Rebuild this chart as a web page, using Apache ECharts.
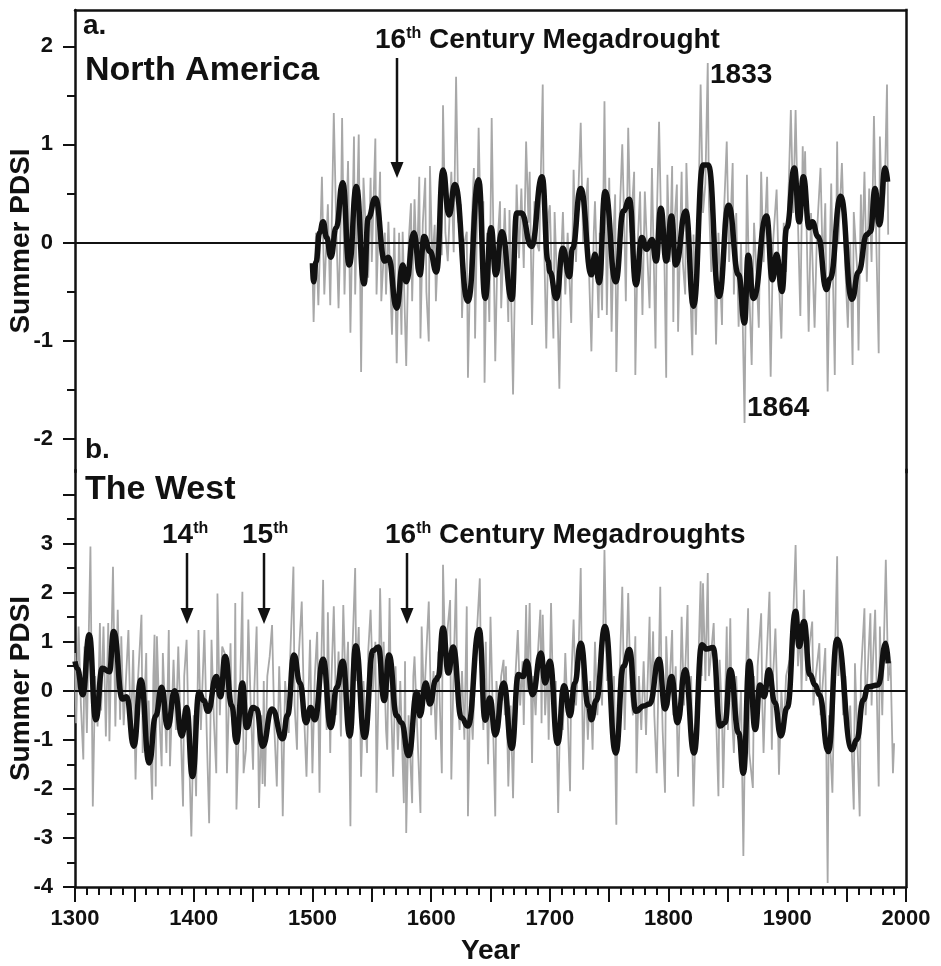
<!DOCTYPE html>
<html>
<head>
<meta charset="utf-8">
<title>Summer PDSI</title>
<script src="https://cdn.jsdelivr.net/npm/echarts@6/dist/echarts.min.js"></script>
<style>
html, body { margin: 0; padding: 0; background: #fff; }
#chart { width: 941px; height: 966px; }
</style>
</head>
<body>
<div id="chart"></div>
<script>
// a. North America — annual values (gray) and smoothed curve (black), [year, PDSI]
const naAnnual = [
  [1500,-0.25],[1501,-0.81],[1503,0.10],[1505,-0.64],[1508,0.67],[1510,-0.53],[1513,0.39],[1515,-0.64],[1518,1.32],[1520,0.20],
  [1522,-0.67],[1524,0.30],[1525,1.27],[1527,-0.53],[1530,0.83],[1532,-0.92],[1535,1.08],[1536,-0.53],[1539,1.10],[1541,-1.32],
  [1543,0.66],[1545,0.10],[1547,-0.36],[1549,0.66],[1550,-0.20],[1553,1.06],[1554,-0.53],[1557,0.72],[1558,-0.60],[1561,0.10],
  [1562,-0.53],[1564,0.21],[1567,-0.94],[1569,0.15],[1571,-1.23],[1573,0.10],[1575,-0.94],[1576,0.11],[1579,-1.26],[1581,0.00],
  [1583,0.40],[1584,-0.60],[1586,0.44],[1588,-0.30],[1590,0.67],[1591,-0.98],[1593,0.20],[1595,0.66],[1596,-0.50],[1598,-1.01],
  [1599,0.78],[1601,-0.20],[1603,0.18],[1604,-0.60],[1607,0.30],[1609,-0.13],[1610,1.40],[1612,0.10],[1614,-0.19],[1617,0.72],
  [1619,-0.10],[1621,1.69],[1623,0.20],[1625,0.39],[1626,-0.77],[1628,0.00],[1630,0.11],[1631,-1.38],[1633,-0.20],[1636,0.76],
  [1637,-0.98],[1640,1.17],[1642,0.00],[1644,0.42],[1645,-1.43],[1647,0.10],[1649,-0.81],[1651,1.27],[1654,-1.21],[1656,0.00],
  [1658,0.42],[1659,-0.67],[1662,0.35],[1665,-0.81],[1666,0.33],[1669,-1.55],[1672,0.59],[1674,-0.16],[1676,0.55],[1678,-0.26],
  [1680,1.03],[1682,0.20],[1683,0.72],[1685,-0.84],[1687,0.42],[1689,0.00],[1691,-0.09],[1694,1.61],[1695,0.10],[1697,-1.08],
  [1699,0.30],[1700,0.38],[1703,-0.98],[1704,0.31],[1706,-0.40],[1708,-1.49],[1710,0.00],[1711,0.31],[1713,-0.53],[1715,0.10],
  [1718,-0.82],[1720,0.74],[1722,-0.20],[1726,1.22],[1728,0.00],[1732,0.66],[1733,-0.30],[1735,-1.11],[1737,0.10],[1738,0.42],
  [1741,-0.77],[1742,0.10],[1744,-0.69],[1746,1.44],[1748,-0.74],[1750,0.66],[1752,-0.91],[1754,0.20],[1755,0.49],[1756,-1.32],
  [1758,0.00],[1761,1.00],[1763,0.00],[1764,-0.60],[1766,1.17],[1768,0.10],[1771,0.72],[1772,-1.35],[1774,0.00],[1776,0.52],
  [1778,-0.74],[1780,0.52],[1782,-0.10],[1784,-0.67],[1786,0.76],[1789,-1.08],[1790,0.20],[1792,1.23],[1794,0.00],[1796,0.20],
  [1798,-1.38],[1799,0.69],[1801,-0.20],[1803,0.78],[1804,-0.81],[1805,0.20],[1807,0.59],[1808,-0.91],[1811,0.72],[1812,-0.20],
  [1814,-0.53],[1815,0.81],[1817,0.00],[1820,-1.15],[1821,0.08],[1823,-0.94],[1825,0.20],[1827,1.61],[1829,0.30],[1831,0.60],
  [1833,1.83],[1834,0.40],[1836,-0.30],[1838,0.20],[1840,-1.04],[1842,0.10],[1845,-0.84],[1846,0.10],[1849,1.03],[1851,-0.20],
  [1854,0.81],[1855,-0.53],[1857,0.30],[1859,-0.86],[1861,0.00],[1862,-0.50],[1864,-1.84],[1866,0.69],[1868,-0.50],[1870,-1.25],
  [1872,0.20],[1874,-0.30],[1876,-0.87],[1878,0.72],[1880,-0.20],[1883,0.67],[1886,-1.37],[1888,0.00],[1891,0.54],[1893,-0.40],
  [1895,-0.98],[1897,0.20],[1899,-0.30],[1901,0.50],[1903,1.35],[1905,0.30],[1907,1.35],[1909,0.20],[1911,-0.75],[1913,0.98],
  [1914,0.40],[1915,0.93],[1918,-0.91],[1920,0.30],[1923,-0.87],[1925,0.10],[1928,0.76],[1930,-0.30],[1932,0.40],[1934,-1.52],
  [1936,0.00],[1937,0.60],[1940,-1.35],[1942,1.03],[1943,0.00],[1946,0.81],[1948,0.00],[1951,-0.87],[1953,0.00],[1955,-1.25],
  [1956,0.31],[1959,-0.30],[1960,-1.10],[1962,0.49],[1963,-0.20],[1965,0.72],[1967,-0.40],[1969,0.55],[1971,-0.20],[1973,1.29],
  [1975,0.00],[1977,-1.13],[1978,1.08],[1980,0.20],[1982,0.50],[1984,1.61],[1985,0.08]
];
const naSmooth = [
  [1500,-0.21],[1501,-0.40],[1503,-0.20],[1506,0.10],[1509,0.21],[1512,0.05],[1515.5,-0.15],[1520,0.15],[1525.5,0.61],[1531,-0.23],
  [1537,0.57],[1543.5,-0.42],[1547,0.25],[1553,0.45],[1561,-0.19],[1564,-0.15],[1571,-0.67],[1576,-0.23],[1579,-0.40],[1585.5,0.10],
  [1590.5,-0.33],[1594,0.06],[1599,-0.09],[1604.5,-0.30],[1610,0.74],[1615,0.28],[1620,0.59],[1631,-0.60],[1640,0.64],[1645.5,-0.57],
  [1650.5,0.15],[1654.5,-0.33],[1659.5,0.11],[1668,-0.58],[1672,0.30],[1676,0.30],[1684.5,-0.04],[1693.5,0.67],[1698.5,-0.19],[1700,-0.30],
  [1705.5,-0.57],[1711,-0.06],[1716.5,-0.35],[1719,-0.06],[1726,0.55],[1735,-0.33],[1738,-0.12],[1741.5,-0.41],[1746.5,0.52],[1755.5,-0.40],
  [1762,0.32],[1767,0.44],[1772.5,-0.43],[1777.5,0.05],[1781.5,-0.07],[1786,0.03],[1789.5,-0.19],[1793.5,0.35],[1798,-0.19],[1802.5,0.27],
  [1806,-0.23],[1814.5,0.32],[1821,-0.65],[1829,0.79],[1833.5,0.79],[1842.5,-0.55],[1850.5,0.38],[1859,-0.33],[1864,-0.82],[1867,-0.13],
  [1871.5,-0.57],[1882.5,0.27],[1887.5,-0.38],[1891,-0.12],[1895.5,-0.50],[1899.5,0.15],[1906,0.76],[1910,0.21],[1913.5,0.67],[1918.5,0.15],
  [1921,0.21],[1926,0.06],[1933,-0.48],[1936,-0.37],[1945,0.47],[1954.5,-0.58],[1960,-0.30],[1967,0.08],[1970,0.11],[1974,0.55],
  [1977.5,0.18],[1982.5,0.76],[1984.5,0.62]
];

// b. The West
const westAnnual = [
  [1300,0.77],[1301,-0.66],[1303,1.31],[1305,-0.30],[1307,-1.40],[1308,0.90],[1310,-0.86],[1313,2.94],[1315,-2.36],[1317,0.30],
  [1319,-0.73],[1321,1.38],[1322,-0.40],[1324,1.31],[1326,-0.93],[1328,1.38],[1329,-1.03],[1332,2.53],[1334,-0.73],[1336,1.65],
  [1338,-0.59],[1339,1.11],[1341,-0.70],[1345,1.24],[1347,-1.00],[1349,0.83],[1351,-1.81],[1353,0.20],[1356,1.55],[1357,-1.27],
  [1360,0.77],[1361,-1.51],[1362,-0.20],[1365,-2.22],[1366,0.30],[1367,1.14],[1368,-1.95],[1369,1.11],[1371,-0.50],[1373,-1.54],
  [1374,0.77],[1377,-1.27],[1379,1.24],[1380,-1.54],[1383,0.63],[1385,-0.80],[1387,0.90],[1391,-2.36],[1392,0.30],[1394,1.04],
  [1396,-1.20],[1398,-2.97],[1400,-0.50],[1402,-2.15],[1404,1.24],[1406,-0.80],[1409,1.24],[1411,-0.90],[1413,-2.70],[1415,1.04],
  [1417,-0.60],[1419,-1.68],[1420,1.98],[1422,-0.50],[1424,0.90],[1427,0.70],[1428,-1.68],[1431,0.97],[1432,-0.50],[1434,-1.00],
  [1435,1.79],[1436,-2.42],[1439,0.00],[1441,2.02],[1442,-1.68],[1444,-1.20],[1446,1.45],[1448,-0.30],[1450,-1.61],[1451,0.00],
  [1453,1.31],[1455,-2.39],[1457,-0.50],[1458,-1.90],[1459,0.20],[1460,-1.95],[1462,0.30],[1464,0.70],[1466,1.34],[1468,-0.80],
  [1470,-1.95],[1472,0.50],[1474,-1.00],[1475,-2.56],[1477,0.20],[1480,-0.86],[1481,0.50],[1484,2.53],[1485,-0.30],[1487,-1.20],
  [1488,0.50],[1491,1.82],[1493,-0.50],[1495,-1.75],[1497,0.20],[1498,1.04],[1500,-1.68],[1502,0.30],[1504,1.20],[1506,-2.08],
  [1507,0.00],[1509,2.26],[1510,0.30],[1512,-0.80],[1513,1.60],[1515,-1.27],[1516,0.20],[1518,1.72],[1520,-0.50],[1522,0.80],
  [1524,-0.93],[1526,1.75],[1528,0.00],[1530,1.00],[1532,-2.76],[1533,0.30],[1536,2.50],[1537,0.20],[1539,1.30],[1541,-1.75],
  [1543,0.20],[1546,-1.27],[1547,0.80],[1549,1.65],[1551,0.00],[1553,1.00],[1554,-2.08],[1556,0.40],[1557,2.09],[1559,0.00],
  [1560,1.00],[1562,-0.80],[1563,-1.20],[1565,1.89],[1566,0.00],[1568,-1.75],[1570,0.50],[1572,-1.20],[1574,0.20],[1577,-2.29],
  [1578,0.60],[1579,-2.90],[1581,-0.50],[1584,-2.29],[1585,0.30],[1586,0.70],[1588,-0.60],[1591,-2.49],[1592,1.31],[1594,-0.30],
  [1596,0.80],[1598,1.82],[1600,-0.50],[1602,0.40],[1604,-1.00],[1606,0.80],[1609,-1.68],[1610,2.57],[1612,0.50],[1614,1.30],
  [1616,1.85],[1617,-1.81],[1619,0.50],[1621,2.29],[1622,0.00],[1624,-0.80],[1626,0.40],[1628,-1.00],[1630,1.72],[1631,-2.56],
  [1633,0.00],[1635,-1.00],[1637,0.50],[1641,2.29],[1642,0.30],[1644,-0.80],[1646,1.00],[1648,-1.50],[1650,1.51],[1654,-2.56],
  [1655,0.20],[1657,-0.50],[1659,0.30],[1661,0.63],[1662,-0.50],[1663,0.50],[1665,-1.95],[1667,-0.30],[1669,-2.19],[1671,0.30],
  [1673,1.24],[1675,-0.30],[1677,0.60],[1678,-0.70],[1680,1.75],[1681,0.00],[1683,1.79],[1685,-1.47],[1686,0.30],[1688,-0.50],
  [1690,0.80],[1692,1.65],[1693,-0.66],[1694,1.55],[1696,-0.50],[1698,0.50],[1699,-1.00],[1701,1.79],[1703,-0.50],[1705,0.20],
  [1707,-2.49],[1709,0.00],[1711,-0.80],[1713,0.77],[1715,-0.50],[1717,-2.05],[1718,0.20],[1720,1.45],[1722,-0.30],[1724,0.60],
  [1726,2.50],[1727,0.30],[1728,-1.61],[1730,0.30],[1732,-1.00],[1734,0.20],[1736,-1.20],[1738,1.00],[1740,-0.50],[1742,0.50],
  [1744,-0.30],[1746,2.87],[1748,0.20],[1750,1.00],[1752,-1.00],[1754,0.30],[1756,-2.73],[1757,-0.30],[1759,0.50],[1761,2.12],
  [1763,-0.80],[1766,1.99],[1768,0.00],[1770,-0.50],[1772,1.11],[1773,-1.68],[1775,0.30],[1777,-0.80],[1779,0.60],[1781,-0.90],
  [1784,1.51],[1785,-0.30],[1787,1.21],[1788,-0.50],[1790,-1.68],[1793,2.12],[1794,0.30],[1795,-0.80],[1797,-2.08],[1798,1.11],
  [1800,-0.30],[1803,1.24],[1804,-0.50],[1806,0.50],[1808,-1.75],[1810,0.20],[1811,1.51],[1813,-0.30],[1816,1.75],[1817,-0.50],
  [1819,0.30],[1821,-2.36],[1823,-0.50],[1825,0.50],[1827,2.23],[1828,0.30],[1829,2.19],[1831,0.20],[1833,2.40],[1834,0.30],
  [1836,0.80],[1838,1.38],[1840,-0.50],[1842,-2.15],[1843,0.63],[1845,-0.50],[1846,-1.98],[1848,0.20],[1849,1.31],[1850,-0.80],
  [1852,1.48],[1853,-0.30],[1855,-1.27],[1857,0.30],[1859,-1.00],[1861,0.00],[1863,-3.37],[1865,0.20],[1867,1.68],[1868,-1.27],
  [1871,-1.98],[1872,0.30],[1874,-0.80],[1875,0.50],[1878,1.58],[1879,-0.30],[1880,-1.27],[1882,0.30],[1885,2.02],[1887,-1.20],
  [1888,0.30],[1890,1.27],[1892,-0.50],[1893,-1.71],[1895,0.00],[1897,-0.80],[1899,0.30],[1902,0.63],[1903,0.00],[1905,1.50],
  [1907,2.97],[1909,0.50],[1911,1.20],[1912,0.00],[1914,2.06],[1916,0.20],[1918,0.80],[1921,1.41],[1922,-0.30],[1924,0.30],
  [1927,0.97],[1928,-0.50],[1930,0.20],[1932,0.87],[1934,-3.92],[1935,-0.50],[1938,-2.08],[1940,0.50],[1942,2.74],[1943,0.30],
  [1945,1.00],[1947,-0.50],[1949,0.30],[1951,-1.00],[1953,-0.30],[1956,-2.42],[1957,0.56],[1959,-1.00],[1961,-2.56],[1962,0.30],
  [1965,1.68],[1966,-0.50],[1970,1.58],[1971,-0.30],[1972,0.50],[1974,1.65],[1977,-1.95],[1978,1.31],[1980,-0.50],[1983,2.67],
  [1985,0.20],[1987,0.60],[1989,-1.68],[1990,-1.07]
];
const westSmooth = [
  [1300,0.60],[1302,0.45],[1306.5,-0.08],[1312,1.14],[1317.5,-0.59],[1323,0.46],[1329,0.39],[1332.5,1.21],[1340,-0.17],[1343.5,-0.12],
  [1349.5,-1.13],[1355.5,0.22],[1362.5,-1.47],[1368,-0.51],[1373,0.07],[1378,-0.75],[1384,0.00],[1390,-0.92],[1394,-0.34],[1399,-1.75],
  [1404.5,-0.03],[1408.5,-0.20],[1412,-0.42],[1419,0.29],[1422.5,-0.12],[1426.5,0.70],[1432,-0.30],[1436,-1.05],[1441,0.16],[1444.5,-0.75],
  [1450,-0.34],[1453,-0.37],[1458,-1.13],[1466,-0.37],[1475,-0.98],[1479,-0.50],[1484.5,0.73],[1489.5,0.16],[1494.5,-0.65],[1498.5,-0.34],
  [1502,-0.59],[1509,0.64],[1515.5,-0.75],[1520.5,0.07],[1525.5,0.60],[1531.5,-0.92],[1536.5,0.92],[1544,-0.95],[1551,0.82],[1555.5,0.89],
  [1560.5,-0.20],[1564.5,0.73],[1571,-0.51],[1575,-0.65],[1581,-1.32],[1588,-0.03],[1590.5,-0.51],[1595.5,0.16],[1599,-0.27],[1604,0.22],
  [1606,0.29],[1610,1.28],[1614.5,0.36],[1618.5,0.89],[1625.5,-0.55],[1631,-0.72],[1640.5,1.25],[1645.5,-0.60],[1649.5,-0.15],[1654,-0.90],
  [1661,0.16],[1668,-1.17],[1673.5,0.33],[1677.5,0.29],[1680.5,0.60],[1685.5,-0.08],[1692.5,0.77],[1696,0.16],[1700,0.60],[1706.5,-1.07],
  [1712,0.10],[1717,-0.51],[1721,0.16],[1726,0.97],[1732.5,-0.31],[1735,-0.59],[1739,-0.20],[1746.5,1.31],[1755.5,-1.27],[1762,0.50],
  [1767,0.84],[1772.5,-0.42],[1779,-0.31],[1784,-0.27],[1792,0.64],[1797,-0.37],[1802.5,0.29],[1807.5,-0.65],[1814,0.43],[1821.5,-1.27],
  [1828,0.94],[1832,0.85],[1837.5,0.88],[1843.5,-0.72],[1847.5,-0.65],[1852,0.43],[1859,-0.86],[1863,-1.68],[1868,0.60],[1873,-0.79],
  [1877,0.12],[1880.5,-0.12],[1884.5,0.43],[1889.5,-0.24],[1894.5,-0.92],[1900,-0.34],[1907,1.62],[1910,0.90],[1914,1.41],[1919,0.33],
  [1923.5,0.12],[1927,-0.08],[1934.5,-1.24],[1942,1.05],[1954.5,-1.20],[1958.5,-1.00],[1964,-0.19],[1968,0.08],[1976.5,0.12],[1983,0.97],
  [1985,0.56]
];

// tick values
const yearLabels = [1300, 1400, 1500, 1600, 1700, 1800, 1900, 2000];
const naTicks = [-2, -1, 0, 1, 2];
const naMinor = [-1.5, -0.5, 0.5, 1.5];
const westTicks = [-4, -3, -2, -1, 0, 1, 2, 3, 4];
const westLabels = [-4, -3, -2, -1, 0, 1, 2, 3];
const westMinor = [-3.5, -2.5, -1.5, -0.5, 0.5, 1.5, 2.5, 3.5];

const FONT = '"Liberation Sans", Arial, Helvetica, sans-serif';
const INK = '#111';
const GRAY = '#a8a8a8';

const chart = echarts.init(document.getElementById('chart'));

function mainY(grid, min, max, ticks, labels, namePad) {
  return {
    type: 'value', gridIndex: grid, min, max, position: 'left',
    axisLine: { show: true, onZero: false, lineStyle: { color: INK, width: 2.5 } },
    axisTick: { show: true, customValues: ticks, length: 12, lineStyle: { color: INK, width: 2 } },
    axisLabel: { customValues: labels, margin: 22, color: INK, fontSize: 22, fontWeight: 'bold', fontFamily: FONT },
    splitLine: { show: false },
    name: 'Summer PDSI', nameLocation: 'middle', nameGap: 40, nameRotate: 90, nameMoveOverlap: false,
    nameTextStyle: { color: INK, fontSize: 28, fontWeight: 'bold', fontFamily: FONT, padding: namePad }
  };
}
function minorY(grid, min, max, ticks) {
  return {
    type: 'value', gridIndex: grid, min, max, position: 'left',
    axisLine: { show: false },
    axisTick: { show: true, customValues: ticks, length: 8, lineStyle: { color: INK, width: 2 } },
    axisLabel: { show: false }, splitLine: { show: false }
  };
}
function frameY(grid, min, max) {
  return {
    type: 'value', gridIndex: grid, min, max, position: 'right',
    axisLine: { show: true, onZero: false, lineStyle: { color: INK, width: 2.5, cap: 'square' } },
    axisTick: { show: false }, axisLabel: { show: false }, splitLine: { show: false }
  };
}

function zeroLine() {
  return {
    silent: true, symbol: ['none', 'none'], label: { show: false },
    lineStyle: { color: INK, width: 2, type: 'solid' },
    data: [{ yAxis: 0 }]
  };
}

function txt(x, y, text, size) {
  return {
    type: 'text', x, y,
    style: { text, fill: INK, font: `bold ${size}px ${FONT}`, align: 'left', textAlign: 'left', verticalAlign: 'middle', textVerticalAlign: 'middle' }
  };
}
function supTxt(x, y, num, rest) {
  return {
    type: 'text', x, y,
    style: {
      text: `{n|${num}}{s|th}{n|${rest}}`,
      align: 'left', textAlign: 'left', verticalAlign: 'middle', textVerticalAlign: 'middle',
      rich: {
        n: { fontSize: 28, fontWeight: 'bold', fontFamily: FONT, fill: INK, color: INK },
        s: { fontSize: 16, fontWeight: 'bold', fontFamily: FONT, fill: INK, color: INK, verticalAlign: 'top' }
      }
    }
  };
}
function arrow(x, y0, y1) {
  return [
    { type: 'line', shape: { x1: x, y1: y0, x2: x, y2: y1 - 12 }, style: { stroke: INK, lineWidth: 2.5 } },
    { type: 'polygon', shape: { points: [[x - 6.5, y1 - 16], [x + 6.5, y1 - 16], [x, y1]] }, style: { fill: INK } }
  ];
}

chart.setOption({
  animation: false,
  backgroundColor: '#fff',
  grid: [
    { left: 75, right: 35, top: 10, height: 462, outerBoundsMode: 'none', containLabel: false },
    { left: 75, right: 35, top: 470, height: 417, outerBoundsMode: 'none', containLabel: false }
  ],
  xAxis: [
    {
      type: 'value', gridIndex: 0, min: 1300, max: 2000, position: 'top',
      axisLine: { show: true, onZero: false, lineStyle: { color: INK, width: 2.5 } },
      axisTick: { show: false }, axisLabel: { show: false }, splitLine: { show: false }
    },
    {
      type: 'value', gridIndex: 1, min: 1300, max: 2000, interval: 50, position: 'bottom',
      axisLine: { show: true, onZero: false, lineStyle: { color: INK, width: 2.5 } },
      axisTick: { show: true, length: 15, lineStyle: { color: INK, width: 2 } },
      minorTick: { show: true, splitNumber: 5, length: 8, lineStyle: { color: INK, width: 2 } },
      axisLabel: {
        margin: 21, color: INK, fontSize: 22, fontWeight: 'bold', fontFamily: FONT,
        formatter: v => (yearLabels.includes(v) ? String(v) : '')
      },
      splitLine: { show: false },
      name: 'Year', nameLocation: 'middle', nameGap: 50, nameMoveOverlap: false,
      nameTextStyle: { color: INK, fontSize: 28, fontWeight: 'bold', fontFamily: FONT }
    }
  ],
  yAxis: [
    mainY(0, -2.34, 2.37, naTicks, naTicks, [0, 0, 0, 0]),
    minorY(0, -2.34, 2.37, naMinor),
    frameY(0, -2.34, 2.37),
    mainY(1, -4, 4.5, westTicks, westLabels, [0, 20, 0, 0]),
    minorY(1, -4, 4.5, westMinor),
    frameY(1, -4, 4.5)
  ],
  series: [
    {
      type: 'line', xAxisIndex: 0, yAxisIndex: 0, data: naAnnual, showSymbol: false, z: 2,
      lineStyle: { color: GRAY, width: 1.8 }, markLine: zeroLine()
    },
    {
      type: 'line', xAxisIndex: 0, yAxisIndex: 0, data: naSmooth, showSymbol: false, z: 3,
      smooth: 0.5, smoothMonotone: 'x', lineStyle: { color: INK, width: 5.5 }
    },
    {
      type: 'line', xAxisIndex: 1, yAxisIndex: 3, data: westAnnual, showSymbol: false, z: 2,
      lineStyle: { color: GRAY, width: 1.8 }, markLine: zeroLine()
    },
    {
      type: 'line', xAxisIndex: 1, yAxisIndex: 3, data: westSmooth, showSymbol: false, z: 3,
      smooth: 0.5, smoothMonotone: 'x', lineStyle: { color: INK, width: 5.5 }
    }
  ],
  graphic: [
    txt(83, 26, 'a.', 28),
    txt(85, 71, 'North America', 34),
    supTxt(375, 40, '16', ' Century Megadrought'),
    ...arrow(397, 58, 178),
    txt(710, 75, '1833', 28),
    txt(747, 408, '1864', 28),
    txt(85, 450, 'b.', 28),
    txt(85, 490, 'The West', 34),
    supTxt(162, 535, '14', ''),
    supTxt(242, 535, '15', ''),
    supTxt(385, 535, '16', ' Century Megadroughts'),
    ...arrow(187, 553, 624),
    ...arrow(264, 553, 624),
    ...arrow(407, 553, 624)
  ]
});
</script>
</body>
</html>
